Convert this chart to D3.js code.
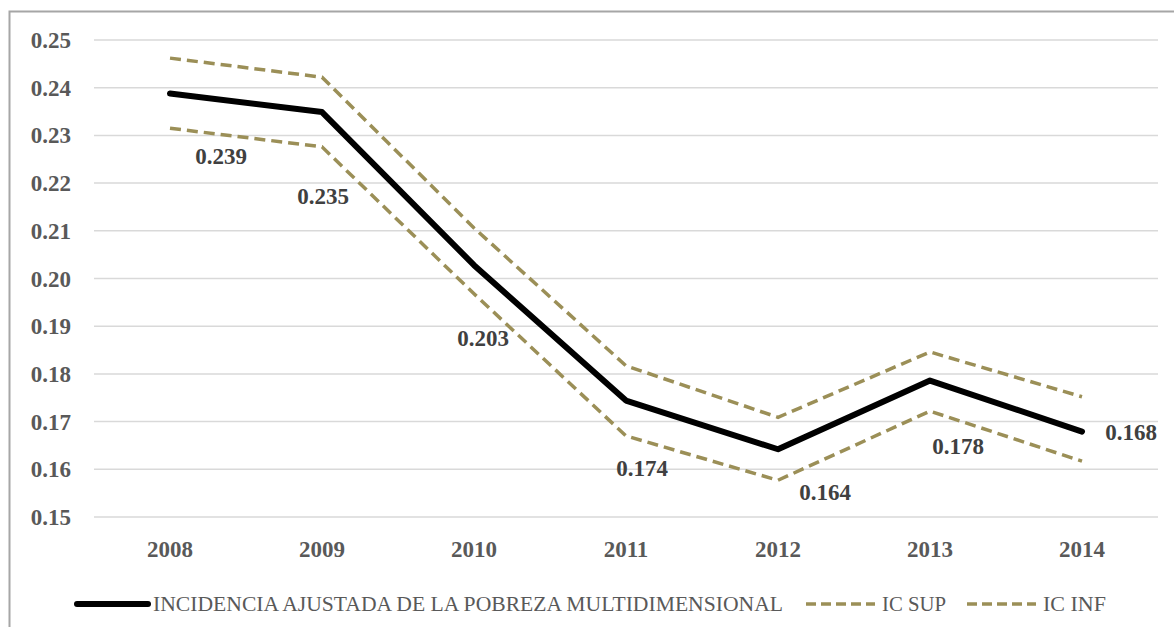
<!DOCTYPE html>
<html>
<head>
<meta charset="utf-8">
<script src="https://cdn.jsdelivr.net/npm/d3@7"></script>
<style>
  html, body { margin: 0; padding: 0; background: #fff; }
  svg { display: block; }
</style>
</head>
<body>
<svg id="chart" width="1174" height="627"></svg>
<script>
"use strict";

var years = ["2008", "2009", "2010", "2011", "2012", "2013", "2014"];
var incidencia = [0.2388, 0.2349, 0.2028, 0.1744, 0.1642, 0.1786, 0.1679];
var icSup = [0.2462, 0.2422, 0.2106, 0.1817, 0.1709, 0.1846, 0.1752];
var icInf = [0.2315, 0.2276, 0.1968, 0.1670, 0.1577, 0.1722, 0.1617];
var dataLabels = ["0.239", "0.235", "0.203", "0.174", "0.164", "0.178", "0.168"];
var yTicks = [0.15, 0.16, 0.17, 0.18, 0.19, 0.20, 0.21, 0.22, 0.23, 0.24, 0.25];
var legendNames = ["INCIDENCIA AJUSTADA DE LA POBREZA MULTIDIMENSIONAL", "IC SUP", "IC INF"];

// manual label placement (dx, dy from the point), as in the original
var labelOffsets = [[51, 63], [1, 84], [9, 73], [16, 67], [47, 43], [28, 65], [49, 0]];

var serif = "Liberation Serif";
var gold = "#9b8f57";

var svg = d3.select("#chart");

// outer frame (only top and left edges show)
svg.append("path")
  .attr("d", "M9.5,627V11.5H1174")
  .style("fill", "none")
  .style("stroke", "#a6a6a6")
  .style("stroke-width", 2);

var x = d3.scaleBand().domain(years).range([94, 1158]);
var y = d3.scaleLinear().domain([0.15, 0.25]).range([517, 40]);
var cx = function (d) { return x(d) + x.bandwidth() / 2; };

// gridlines
svg.append("g").selectAll("line").data(yTicks).enter().append("line")
  .attr("x1", 94).attr("x2", 1158)
  .attr("y1", function (d) { return y(d); })
  .attr("y2", function (d) { return y(d); })
  .style("stroke", "#d9d9d9")
  .style("stroke-width", 1.5);

// y axis labels
svg.append("g").selectAll("text").data(yTicks).enter().append("text")
  .attr("x", 71)
  .attr("y", function (d) { return y(d); })
  .attr("dy", "0.35em")
  .attr("text-anchor", "end")
  .attr("font-family", serif)
  .attr("font-weight", "bold")
  .attr("font-size", 23)
  .attr("fill", "#595959")
  .text(function (d) { return d3.format(".2f")(d); });

// x axis labels
svg.append("g").selectAll("text").data(years).enter().append("text")
  .attr("x", cx)
  .attr("y", 549)
  .attr("dy", "0.35em")
  .attr("text-anchor", "middle")
  .attr("font-family", serif)
  .attr("font-weight", "bold")
  .attr("font-size", 23)
  .attr("fill", "#595959")
  .text(function (d) { return d; });

var line = d3.line()
  .x(function (d, i) { return cx(years[i]); })
  .y(function (d) { return y(d); });

var series = [
  { values: incidencia, color: "#000", width: 6, dash: null },
  { values: icSup, color: gold, width: 3.5, dash: "11,6" },
  { values: icInf, color: gold, width: 3.5, dash: "11,6" }
];

// draw the dashed bands first, main line on top
[series[1], series[2], series[0]].forEach(function (s) {
  svg.append("path")
    .datum(s.values)
    .attr("d", line)
    .style("fill", "none")
    .style("stroke", s.color)
    .style("stroke-width", s.width)
    .style("stroke-linejoin", s.dash ? "miter" : "round")
    .style("stroke-linecap", s.dash ? "butt" : "round")
    .style("stroke-dasharray", s.dash);
});

// data labels
svg.append("g").selectAll("text").data(incidencia).enter().append("text")
  .attr("x", function (d, i) { return cx(years[i]) + labelOffsets[i][0]; })
  .attr("y", function (d, i) { return y(d) + labelOffsets[i][1]; })
  .attr("dy", "0.35em")
  .attr("text-anchor", "middle")
  .attr("font-family", serif)
  .attr("font-weight", "bold")
  .attr("font-size", 23)
  .attr("fill", "#404040")
  .text(function (d, i) { return dataLabels[i]; });

// legend
var legendItems = [
  { x1: 77, x2: 148, tx: 153, tw: 630, s: series[0] },
  { x1: 806, x2: 875, tx: 882, tw: 64, s: series[1] },
  { x1: 967, x2: 1036, tx: 1043, tw: 63, s: series[2] }
];
var legend = svg.append("g").selectAll("g").data(legendItems).enter().append("g");
legend.append("line")
  .attr("x1", function (d) { return d.x1; })
  .attr("x2", function (d) { return d.x2; })
  .attr("y1", 604).attr("y2", 604)
  .style("stroke", function (d) { return d.s.color; })
  .style("stroke-width", function (d) { return d.s.width; })
  .style("stroke-linecap", function (d) { return d.s.dash ? "butt" : "round"; })
  .style("stroke-dasharray", function (d) { return d.s.dash ? "10,5" : null; });
legend.append("text")
  .attr("x", function (d) { return d.tx; })
  .attr("y", 604)
  .attr("dy", "0.35em")
  .attr("textLength", function (d) { return d.tw; })
  .attr("lengthAdjust", "spacingAndGlyphs")
  .attr("font-family", serif)
  .attr("font-size", 20)
  .attr("fill", "#595959")
  .text(function (d, i) { return legendNames[i]; });
</script>
</body>
</html>
